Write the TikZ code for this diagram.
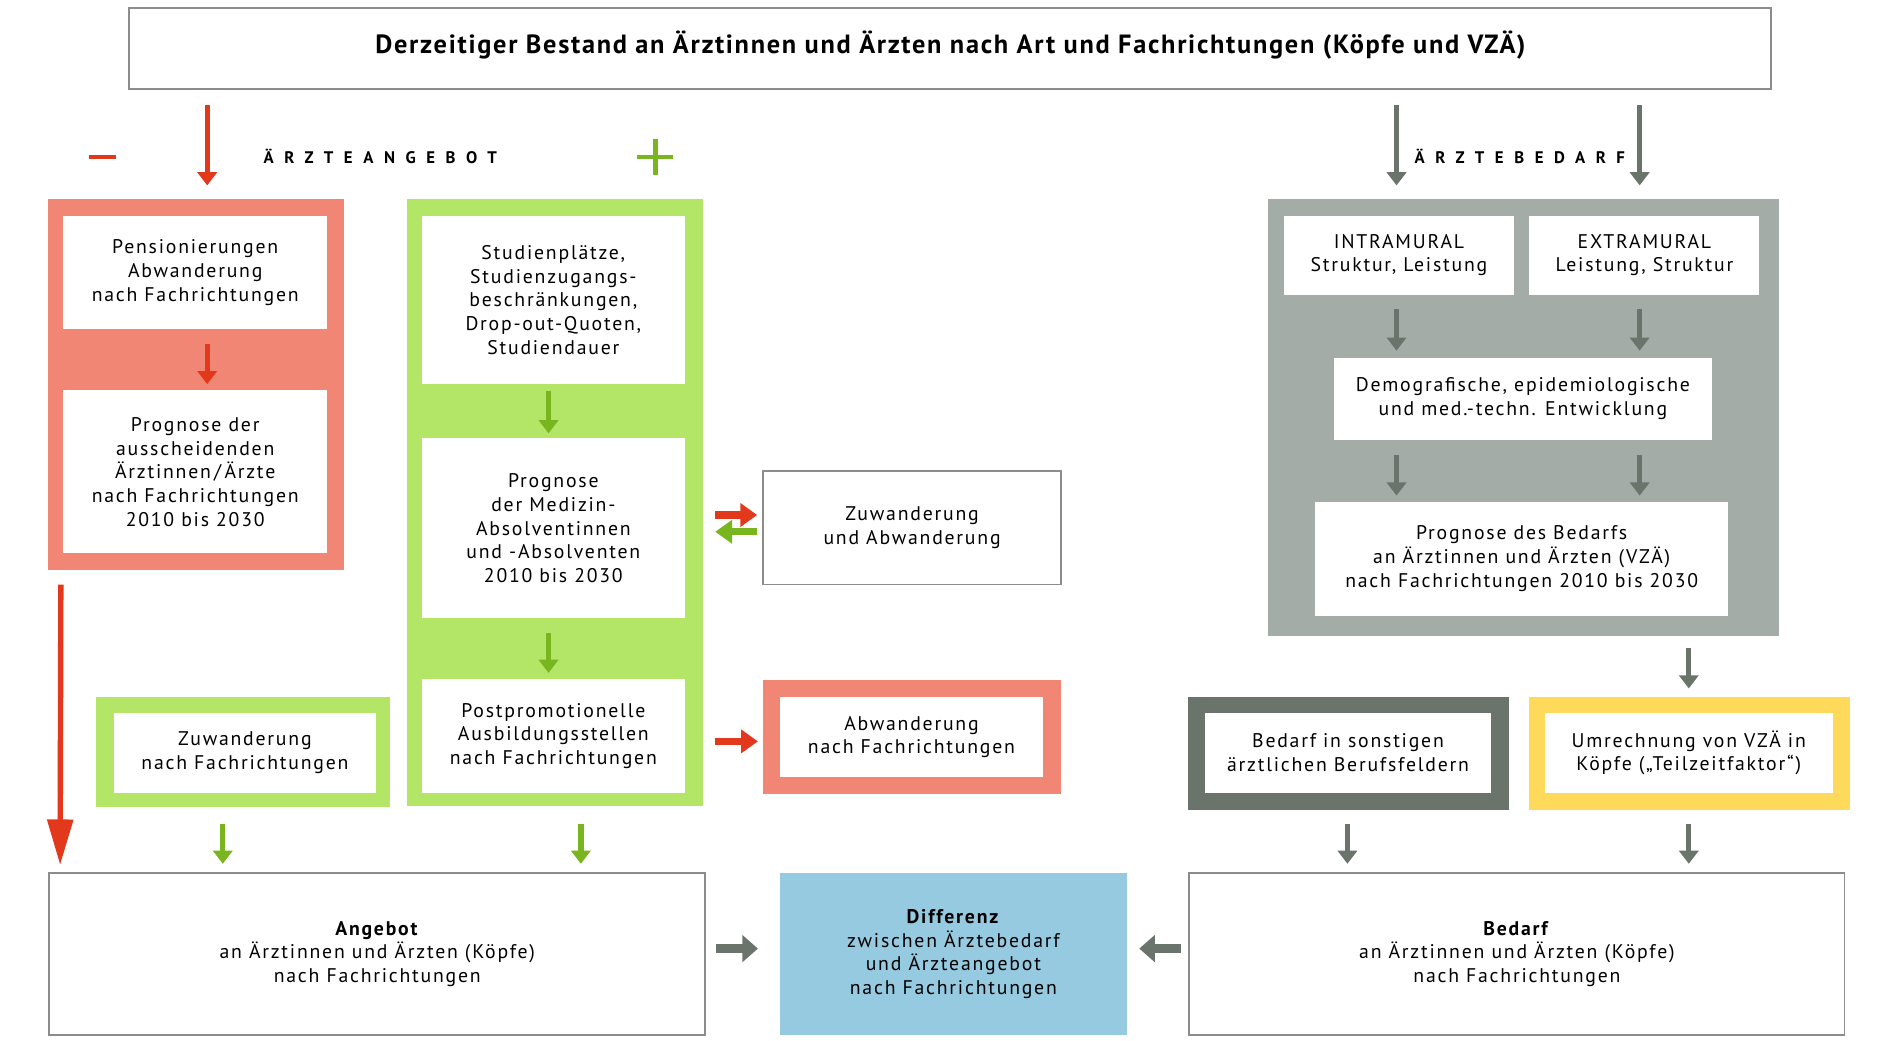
\documentclass[tikz,border=0pt]{standalone}
\usepackage{fontspec}
\setmainfont{PT Sans}[LetterSpace=9]
\usetikzlibrary{arrows.meta,calc}

\definecolor{salmon}{HTML}{F08673}
\definecolor{redarrow}{HTML}{E2391D}
\definecolor{lime}{HTML}{B3E566}
\definecolor{greenarrow}{HTML}{79B51F}
\definecolor{panelgray}{HTML}{A3ACA6}
\definecolor{slate}{HTML}{6A746B}
\definecolor{sun}{HTML}{FFD95A}
\definecolor{sky}{HTML}{96CAE0}
\definecolor{rulegray}{HTML}{8C8C8C}

\tikzset{
  sz/.style 2 args={minimum width=#1pt, minimum height=#2pt},
  txt/.style={font=\fontsize{16.5}{19.8}\selectfont, align=center, text=black},
  outline/.style={draw=rulegray, line width=1.6pt, fill=white, inner sep=0pt, txt},
  frame/.style={fill=#1, inner sep=0pt},
  card/.style={fill=white, inner sep=0pt, txt},
  vtip/.style={-{Triangle[width=16pt,length=11pt]}, line width=4.5pt},
  redv/.style={vtip, draw=redarrow},
  greenv/.style={vtip, draw=greenarrow},
  grayv/.style={vtip, draw=slate},
  redh/.style={-{Triangle[width=19pt,length=14pt]}, line width=6pt, draw=redarrow},
  greenh/.style={-{Triangle[width=19pt,length=14pt]}, line width=6pt, draw=greenarrow},
  grayh/.style={-{Triangle[width=22pt,length=13pt]}, line width=8pt, draw=slate},
  longred/.style={-{Triangle[width=21pt,length=38pt]}, line width=4.5pt, draw=redarrow},
  heading/.style={font=\fontsize{14}{16}\selectfont\bfseries\addfontfeature{LetterSpace=63}, anchor=west, inner sep=0pt}
}

\begin{document}
\begin{tikzpicture}[x=1pt, y=-1pt]
\useasboundingbox[fill=white] (0,0) rectangle (1568,869);

% stock of physicians
\node[outline, sz={1371}{67}] (title) at (793.5,40.5) {};
\node[font=\fontsize{22}{26}\selectfont\bfseries\addfontfeature{LetterSpace=6.5}, inner sep=0pt]
  (titletext) at (793.5,37.5) {Derzeitiger Bestand an Ärztinnen und Ärzten nach Art und Fachrichtungen (Köpfe und VZÄ)};

% headings with sign markers
\node[heading] (supply) at (220,131) {ÄRZTEANGEBOT};
\node[heading] (demand) at (1181,131) {ÄRZTEBEDARF};
\draw[redarrow, line width=4pt] (74,131) -- (97,131);
\draw[greenarrow, line width=4pt] (532,131) -- (562,131) (547,116) -- (547,146);

% outflow column
\node[frame=salmon, sz={247}{310}] (redcol) at (163.5,321) {};
\node[card, sz={220}{95}] (pens) at (163,227.5) {Pensionierungen\\Abwanderung\\nach Fachrichtungen};
\node[card, sz={220}{136}] (progA) at (163,394) {Prognose der\\ausscheidenden\\Ärztinnen\,/\,Ärzte\\nach Fachrichtungen\\2010 bis 2030};

% inflow column
\node[frame=lime, sz={247}{507}] (greencol) at (463.5,419.5) {};
\node[card, sz={220}{141}] (stud) at (462,250.5) {Studienplätze,\\Studienzugangs-\\beschränkungen,\\Drop-out-Quoten,\\Studiendauer};
\node[card, sz={220}{150}] (progM) at (462,441) {Prognose\\der Medizin-\\Absolventinnen\\und -Absolventen\\2010 bis 2030};
\node[card, sz={220}{95}] (postp) at (462,614.5) {Postpromotionelle\\Ausbildungsstellen\\nach Fachrichtungen};

% migration boxes
\node[outline, sz={249}{95}] (zuab) at (761.5,440.5) {Zuwanderung\\und Abwanderung};
\node[frame=salmon, sz={249}{95}] (abwframe) at (761.5,615.5) {};
\node[card, sz={220}{67}] (abw) at (761,615.5) {Abwanderung\\nach Fachrichtungen};
\node[frame=lime, sz={246}{92}] (zuwframe) at (203,628) {};
\node[card, sz={219}{67}] (zuw) at (204.5,628.5) {Zuwanderung\\nach Fachrichtungen};

% results
\node[outline, sz={548}{135}] (angebot) at (315,796.5) {\textbf{Angebot}\\an Ärztinnen und Ärzten (Köpfe)\\nach Fachrichtungen};
\node[frame=sky, sz={290}{135}, txt] (diff) at (796,796.5) {\textbf{Differenz}\\zwischen Ärztebedarf\\und Ärzteangebot\\nach Fachrichtungen};
\node[outline, sz={547}{135}] (bedarf) at (1266.5,796.5) {\textbf{Bedarf}\\an Ärztinnen und Ärzten (Köpfe)\\nach Fachrichtungen};

% demand panel
\node[frame=panelgray, sz={426}{365}] (panel) at (1272,348.5) {};
\node[card, sz={192}{66}] (intra) at (1168,213) {INTRAMURAL\\Struktur, Leistung};
\node[card, sz={192}{66}] (extra) at (1373,213) {EXTRAMURAL\\Leistung, Struktur};
\node[card, sz={315}{68}] (demo) at (1271.5,333) {Demografische, epidemiologische\\und med.-techn. Entwicklung};
\node[card, sz={345}{95}] (progB) at (1270.5,466.5) {Prognose des Bedarfs\\an Ärztinnen und Ärzten (VZÄ)\\nach Fachrichtungen 2010 bis 2030};

\node[frame=slate, sz={268}{94}] (sonstframe) at (1126,629) {};
\node[card, sz={239}{67}] (sonst) at (1125.5,628.5) {Bedarf in sonstigen\\ärztlichen Berufsfeldern};
\node[frame=sun, sz={268}{94}] (umrframe) at (1411,629) {};
\node[card, sz={240}{67}] (umr) at (1410,628.5) {Umrechnung von VZÄ in\\Köpfe („Teilzeitfaktor“)};

% connectors: supply side
\draw[redv] ($(title.south -| pens)+(10,13)$) -- ($(redcol.north -| pens)+(10,-11)$);
\draw[redv] ($(pens.south)+(10,12)$) -- ($(progA.north)+(10,-5)$);
\draw[greenv] ($(stud.south)+(-4,5)$) -- ($(progM.north)+(-4,-4)$);
\draw[greenv] ($(progM.south)+(-4,12)$) -- ($(postp.north)+(-4,-5)$);
\draw[redh] ($(greencol.east |- zuab)+(10,-10.5)$) -- ($(zuab.west)+(-4,-10.5)$);
\draw[greenh] ($(zuab.west)+(-4,3.5)$) -- ($(greencol.east |- zuab)+(10,3.5)$);
\draw[redh] ($(greencol.east |- abwframe)+(10,3.5)$) -- ($(abwframe.west)+(-4,3.5)$);
\draw[longred] ($(redcol.south west)+(11,12)$) -- ($(angebot.north west)+(10,-6)$);
\draw[greenv] ($(zuwframe.south)+(-17,14)$) -- ($(angebot.north -| zuwframe)+(-17,-7)$);
\draw[greenv] ($(greencol.south)+(21.5,15)$) -- ($(angebot.north -| greencol)+(21.5,-7)$);
\draw[grayh] ($(angebot.east)+(8,-4.5)$) -- ($(diff.west)+(-18,-4.5)$);

% connectors: demand side
\draw[grayv] ($(title.south -| intra)+(-2,13)$) -- ($(panel.north -| intra)+(-2,-11)$);
\draw[grayv] ($(title.south -| extra)+(-4,13)$) -- ($(panel.north -| extra)+(-4,-11)$);
\draw[grayv] ($(intra.south)+(-2,12)$) -- ($(demo.north -| intra)+(-2,-6)$);
\draw[grayv] ($(extra.south)+(-4,12)$) -- ($(demo.north -| extra)+(-4,-6)$);
\draw[grayv] ($(demo.south -| intra)+(-2,13)$) -- ($(progB.north -| intra)+(-2,-5)$);
\draw[grayv] ($(demo.south -| extra)+(-4,13)$) -- ($(progB.north -| extra)+(-4,-5)$);
\draw[grayv] ($(panel.south -| umrframe)+(-1,10)$) -- ($(umrframe.north)+(-1,-7)$);
\draw[grayv] ($(sonstframe.south)+(-1,12)$) -- ($(bedarf.north -| sonstframe)+(-1,-7)$);
\draw[grayv] ($(umrframe.south)+(-1,12)$) -- ($(bedarf.north -| umrframe)+(-1,-7)$);
\draw[grayh] ($(bedarf.west)+(-6,-4.5)$) -- ($(diff.east)+(10,-4.5)$);
\end{tikzpicture}
\end{document}
